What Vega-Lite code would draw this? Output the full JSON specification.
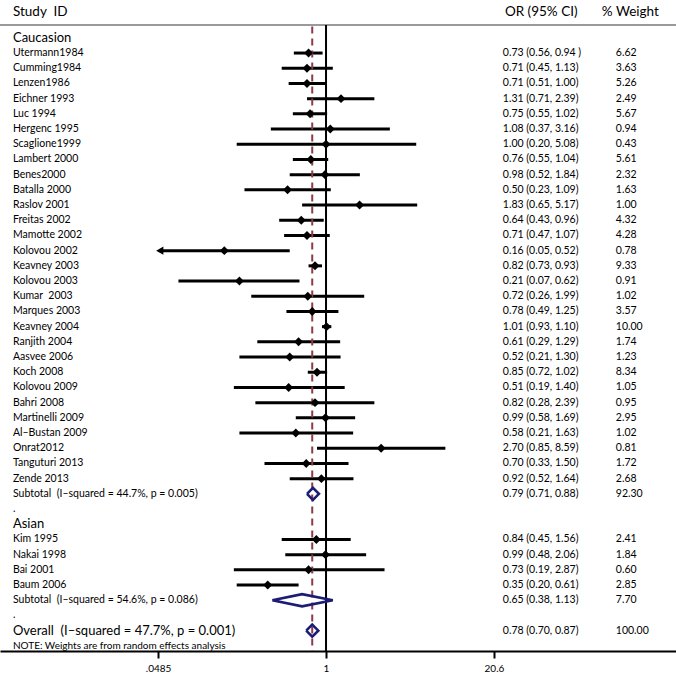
{
  "$schema": "https://vega.github.io/schema/vega-lite/v6.json",
  "width": 676,
  "height": 651,
  "autosize": "none",
  "padding": {"top": 0, "left": 0, "right": 0, "bottom": 33},
  "background": "white",
  "config": {
    "view": {"stroke": null},
    "font": "Lato",
    "axis": {"grid": false, "domainColor": "black", "domainWidth": 2, "tickColor": "black", "tickWidth": 2, "tickSize": 7, "labelFontSize": 10, "labelColor": "black", "labelFont": "Lato", "labelPadding": 5}
  },
  "datasets": {
    "studies": [
      {"label": "Utermann1984", "row": 1, "or": 0.73, "lo": 0.56, "hi": 0.94, "ci": "0.73 (0.56, 0.94 )", "wt": "6.62"},
      {"label": "Cumming1984", "row": 2, "or": 0.71, "lo": 0.45, "hi": 1.13, "ci": "0.71 (0.45, 1.13)", "wt": "3.63"},
      {"label": "Lenzen1986", "row": 3, "or": 0.71, "lo": 0.51, "hi": 1.00, "ci": "0.71 (0.51, 1.00)", "wt": "5.26"},
      {"label": "Eichner 1993", "row": 4, "or": 1.31, "lo": 0.71, "hi": 2.39, "ci": "1.31 (0.71, 2.39)", "wt": "2.49"},
      {"label": "Luc 1994", "row": 5, "or": 0.75, "lo": 0.55, "hi": 1.02, "ci": "0.75 (0.55, 1.02)", "wt": "5.67"},
      {"label": "Hergenc 1995", "row": 6, "or": 1.08, "lo": 0.37, "hi": 3.16, "ci": "1.08 (0.37, 3.16)", "wt": "0.94"},
      {"label": "Scaglione1999", "row": 7, "or": 1.00, "lo": 0.20, "hi": 5.08, "ci": "1.00 (0.20, 5.08)", "wt": "0.43"},
      {"label": "Lambert 2000", "row": 8, "or": 0.76, "lo": 0.55, "hi": 1.04, "ci": "0.76 (0.55, 1.04)", "wt": "5.61"},
      {"label": "Benes2000", "row": 9, "or": 0.98, "lo": 0.52, "hi": 1.84, "ci": "0.98 (0.52, 1.84)", "wt": "2.32"},
      {"label": "Batalla 2000", "row": 10, "or": 0.50, "lo": 0.23, "hi": 1.09, "ci": "0.50 (0.23, 1.09)", "wt": "1.63"},
      {"label": "Raslov 2001", "row": 11, "or": 1.83, "lo": 0.65, "hi": 5.17, "ci": "1.83 (0.65, 5.17)", "wt": "1.00"},
      {"label": "Freitas 2002", "row": 12, "or": 0.64, "lo": 0.43, "hi": 0.96, "ci": "0.64 (0.43, 0.96)", "wt": "4.32"},
      {"label": "Mamotte 2002", "row": 13, "or": 0.71, "lo": 0.47, "hi": 1.07, "ci": "0.71 (0.47, 1.07)", "wt": "4.28"},
      {"label": "Kolovou 2002", "row": 14, "or": 0.16, "lo": 0.05, "hi": 0.52, "ci": "0.16 (0.05, 0.52)", "wt": "0.78"},
      {"label": "Keavney 2003", "row": 15, "or": 0.82, "lo": 0.73, "hi": 0.93, "ci": "0.82 (0.73, 0.93)", "wt": "9.33"},
      {"label": "Kolovou 2003", "row": 16, "or": 0.21, "lo": 0.07, "hi": 0.62, "ci": "0.21 (0.07, 0.62)", "wt": "0.91"},
      {"label": "Kumar\u00a0 2003", "row": 17, "or": 0.72, "lo": 0.26, "hi": 1.99, "ci": "0.72 (0.26, 1.99)", "wt": "1.02"},
      {"label": "Marques 2003", "row": 18, "or": 0.78, "lo": 0.49, "hi": 1.25, "ci": "0.78 (0.49, 1.25)", "wt": "3.57"},
      {"label": "Keavney 2004", "row": 19, "or": 1.01, "lo": 0.93, "hi": 1.10, "ci": "1.01 (0.93, 1.10)", "wt": "10.00"},
      {"label": "Ranjith 2004", "row": 20, "or": 0.61, "lo": 0.29, "hi": 1.29, "ci": "0.61 (0.29, 1.29)", "wt": "1.74"},
      {"label": "Aasvee 2006", "row": 21, "or": 0.52, "lo": 0.21, "hi": 1.30, "ci": "0.52 (0.21, 1.30)", "wt": "1.23"},
      {"label": "Koch 2008", "row": 22, "or": 0.85, "lo": 0.72, "hi": 1.02, "ci": "0.85 (0.72, 1.02)", "wt": "8.34"},
      {"label": "Kolovou 2009", "row": 23, "or": 0.51, "lo": 0.19, "hi": 1.40, "ci": "0.51 (0.19, 1.40)", "wt": "1.05"},
      {"label": "Bahri 2008", "row": 24, "or": 0.82, "lo": 0.28, "hi": 2.39, "ci": "0.82 (0.28, 2.39)", "wt": "0.95"},
      {"label": "Martinelli 2009", "row": 25, "or": 0.99, "lo": 0.58, "hi": 1.69, "ci": "0.99 (0.58, 1.69)", "wt": "2.95"},
      {"label": "Al\u2013Bustan 2009", "row": 26, "or": 0.58, "lo": 0.21, "hi": 1.63, "ci": "0.58 (0.21, 1.63)", "wt": "1.02"},
      {"label": "Onrat2012", "row": 27, "or": 2.70, "lo": 0.85, "hi": 8.59, "ci": "2.70 (0.85, 8.59)", "wt": "0.81"},
      {"label": "Tanguturi 2013", "row": 28, "or": 0.70, "lo": 0.33, "hi": 1.50, "ci": "0.70 (0.33, 1.50)", "wt": "1.72"},
      {"label": "Zende 2013", "row": 29, "or": 0.92, "lo": 0.52, "hi": 1.64, "ci": "0.92 (0.52, 1.64)", "wt": "2.68"},
      {"label": "Kim 1995", "row": 33, "or": 0.84, "lo": 0.45, "hi": 1.56, "ci": "0.84 (0.45, 1.56)", "wt": "2.41"},
      {"label": "Nakai 1998", "row": 34, "or": 0.99, "lo": 0.48, "hi": 2.06, "ci": "0.99 (0.48, 2.06)", "wt": "1.84"},
      {"label": "Bai 2001", "row": 35, "or": 0.73, "lo": 0.19, "hi": 2.87, "ci": "0.73 (0.19, 2.87)", "wt": "0.60"},
      {"label": "Baum 2006", "row": 36, "or": 0.35, "lo": 0.20, "hi": 0.61, "ci": "0.35 (0.20, 0.61)", "wt": "2.85"}
    ],
    "arrows": [{"row": 14, "lo": 0.05}],
    "summary": [
      {"label": "Subtotal\u00a0 (I\u2013squared = 44.7%, p = 0.005)", "row": 30, "ci": "0.79 (0.71, 0.88)", "wt": "92.30", "kind": "sub"},
      {"label": "Subtotal\u00a0 (I\u2013squared = 54.6%, p = 0.086)", "row": 37, "ci": "0.65 (0.38, 1.13)", "wt": "7.70", "kind": "sub"},
      {"label": "Overall\u00a0 (I\u2013squared = 47.7%, p = 0.001)", "row": 39, "ci": "0.78 (0.70, 0.87)", "wt": "100.00", "kind": "overall"},
      {"label": ".", "row": 31, "kind": "dot"},
      {"label": ".", "row": 38, "kind": "dot"},
      {"label": "Caucasion", "row": 0, "kind": "group"},
      {"label": "Asian", "row": 32, "kind": "group"},
      {"label": "NOTE: Weights are from random effects analysis", "row": 40, "kind": "note"}
    ],
    "diamonds": [
      {"id": "c", "ord": 1, "x": 0.71, "r": 30},
      {"id": "c", "ord": 2, "x": 0.79, "r": 29.6},
      {"id": "c", "ord": 3, "x": 0.88, "r": 30},
      {"id": "c", "ord": 4, "x": 0.79, "r": 30.4},
      {"id": "c", "ord": 5, "x": 0.71, "r": 30},
      {"id": "a", "ord": 1, "x": 0.38, "r": 37},
      {"id": "a", "ord": 2, "x": 0.65, "r": 36.6},
      {"id": "a", "ord": 3, "x": 1.13, "r": 37},
      {"id": "a", "ord": 4, "x": 0.65, "r": 37.4},
      {"id": "a", "ord": 5, "x": 0.38, "r": 37},
      {"id": "o", "ord": 1, "x": 0.70, "r": 39},
      {"id": "o", "ord": 2, "x": 0.78, "r": 38.6},
      {"id": "o", "ord": 3, "x": 0.87, "r": 39},
      {"id": "o", "ord": 4, "x": 0.78, "r": 39.4},
      {"id": "o", "ord": 5, "x": 0.70, "r": 39}
    ],
    "headers": [
      {"text": "Study\u00a0 ID", "pos": 0.003548},
      {"text": "OR (95% CI)", "pos": 25.1},
      {"text": "% Weight", "pos": 144}
    ]
  },
  "layer": [
    {
      "data": {"name": "studies"},
      "mark": {"type": "rule", "color": "black", "strokeWidth": 3},
      "encoding": {
        "x": {"field": "lo", "type": "quantitative",
              "scale": {"type": "log", "domain": [0.00281, 548], "nice": false, "zero": false},
              "axis": {"values": [0.0485, 1, 20.6], "title": null,
                       "labelExpr": "datum.value < 0.1 ? '.0485' : (datum.value > 10 ? '20.6' : '1')"}},
        "x2": {"field": "hi"},
        "y": {"field": "row", "type": "quantitative",
              "scale": {"domain": [-2.49, 40.34], "reverse": true, "nice": false, "zero": false},
              "axis": null}
      }
    },
    {
      "data": {"values": [{}]},
      "mark": {"type": "rule", "color": "#9a9a9a", "strokeWidth": 2},
      "encoding": {"y": {"datum": -0.84, "type": "quantitative"}}
    },
    {
      "data": {"values": [{}]},
      "mark": {"type": "rule", "color": "black", "strokeWidth": 2},
      "encoding": {
        "x": {"datum": 1, "type": "quantitative"},
        "y": {"datum": -0.84, "type": "quantitative"},
        "y2": {"datum": 40.34}
      }
    },
    {
      "data": {"values": [{}]},
      "mark": {"type": "rule", "color": "#8c3b4b", "strokeWidth": 2, "strokeDash": [7, 5]},
      "encoding": {
        "x": {"datum": 0.78, "type": "quantitative"},
        "y": {"datum": -0.75, "type": "quantitative"},
        "y2": {"datum": 40.34}
      }
    },
    {
      "data": {"name": "studies"},
      "mark": {"type": "point", "shape": "diamond", "filled": true, "color": "black", "size": 80, "opacity": 1},
      "encoding": {
        "x": {"field": "or", "type": "quantitative"},
        "y": {"field": "row", "type": "quantitative"}
      }
    },
    {
      "data": {"name": "arrows"},
      "mark": {"type": "point", "shape": "triangle-left", "filled": true, "color": "black", "size": 70, "opacity": 1},
      "encoding": {
        "x": {"field": "lo", "type": "quantitative"},
        "y": {"field": "row", "type": "quantitative"}
      }
    },
    {
      "data": {"name": "diamonds"},
      "mark": {"type": "line", "color": "#1c1c74", "strokeWidth": 2.6, "strokeJoin": "miter"},
      "encoding": {
        "x": {"field": "x", "type": "quantitative"},
        "y": {"field": "r", "type": "quantitative"},
        "detail": {"field": "id"},
        "order": {"field": "ord", "type": "quantitative"}
      }
    },
    {
      "data": {"name": "studies"},
      "mark": {"type": "text", "align": "left", "baseline": "middle", "fontSize": 10.5, "font": "Lato", "color": "black"},
      "encoding": {
        "x": {"datum": 0.003548, "type": "quantitative"},
        "y": {"field": "row", "type": "quantitative"},
        "text": {"field": "label"}
      }
    },
    {
      "data": {"name": "studies"},
      "mark": {"type": "text", "align": "left", "baseline": "middle", "fontSize": 10.5, "font": "Lato", "color": "black"},
      "encoding": {
        "x": {"datum": 24.2, "type": "quantitative"},
        "y": {"field": "row", "type": "quantitative"},
        "text": {"field": "ci"}
      }
    },
    {
      "data": {"name": "studies"},
      "mark": {"type": "text", "align": "left", "baseline": "middle", "fontSize": 10.5, "font": "Lato", "color": "black"},
      "encoding": {
        "x": {"datum": 185.3, "type": "quantitative"},
        "y": {"field": "row", "type": "quantitative"},
        "text": {"field": "wt"}
      }
    },
    {
      "data": {"name": "summary"},
      "transform": [{"filter": "datum.kind == 'sub' || datum.kind == 'dot'"}],
      "mark": {"type": "text", "align": "left", "baseline": "middle", "fontSize": 10.5, "font": "Lato", "color": "black"},
      "encoding": {
        "x": {"datum": 0.003548, "type": "quantitative"},
        "y": {"field": "row", "type": "quantitative"},
        "text": {"field": "label"}
      }
    },
    {
      "data": {"name": "summary"},
      "transform": [{"filter": "datum.kind == 'group'"}],
      "mark": {"type": "text", "align": "left", "baseline": "middle", "fontSize": 13, "font": "Lato", "color": "black"},
      "encoding": {
        "x": {"datum": 0.003548, "type": "quantitative"},
        "y": {"field": "row", "type": "quantitative"},
        "text": {"field": "label"}
      }
    },
    {
      "data": {"name": "summary"},
      "transform": [{"filter": "datum.kind == 'overall'"}],
      "mark": {"type": "text", "align": "left", "baseline": "middle", "fontSize": 13, "font": "Lato", "color": "black"},
      "encoding": {
        "x": {"datum": 0.003548, "type": "quantitative"},
        "y": {"field": "row", "type": "quantitative"},
        "text": {"field": "label"}
      }
    },
    {
      "data": {"name": "summary"},
      "transform": [{"filter": "datum.kind == 'note'"}],
      "mark": {"type": "text", "align": "left", "baseline": "middle", "fontSize": 10, "font": "Lato", "color": "black"},
      "encoding": {
        "x": {"datum": 0.003548, "type": "quantitative"},
        "y": {"field": "row", "type": "quantitative"},
        "text": {"field": "label"}
      }
    },
    {
      "data": {"name": "summary"},
      "transform": [{"filter": "datum.ci != null"}],
      "mark": {"type": "text", "align": "left", "baseline": "middle", "fontSize": 10.5, "font": "Lato", "color": "black"},
      "encoding": {
        "x": {"datum": 24.2, "type": "quantitative"},
        "y": {"field": "row", "type": "quantitative"},
        "text": {"field": "ci"}
      }
    },
    {
      "data": {"name": "summary"},
      "transform": [{"filter": "datum.wt != null"}],
      "mark": {"type": "text", "align": "left", "baseline": "middle", "fontSize": 10.5, "font": "Lato", "color": "black"},
      "encoding": {
        "x": {"datum": 185.3, "type": "quantitative"},
        "y": {"field": "row", "type": "quantitative"},
        "text": {"field": "wt"}
      }
    },
    {
      "data": {"name": "headers"},
      "mark": {"type": "text", "align": "left", "baseline": "middle", "fontSize": 13.5, "font": "Lato", "color": "black"},
      "encoding": {
        "x": {"field": "pos", "type": "quantitative"},
        "y": {"datum": -1.7, "type": "quantitative"},
        "text": {"field": "text"}
      }
    }
  ]
}
